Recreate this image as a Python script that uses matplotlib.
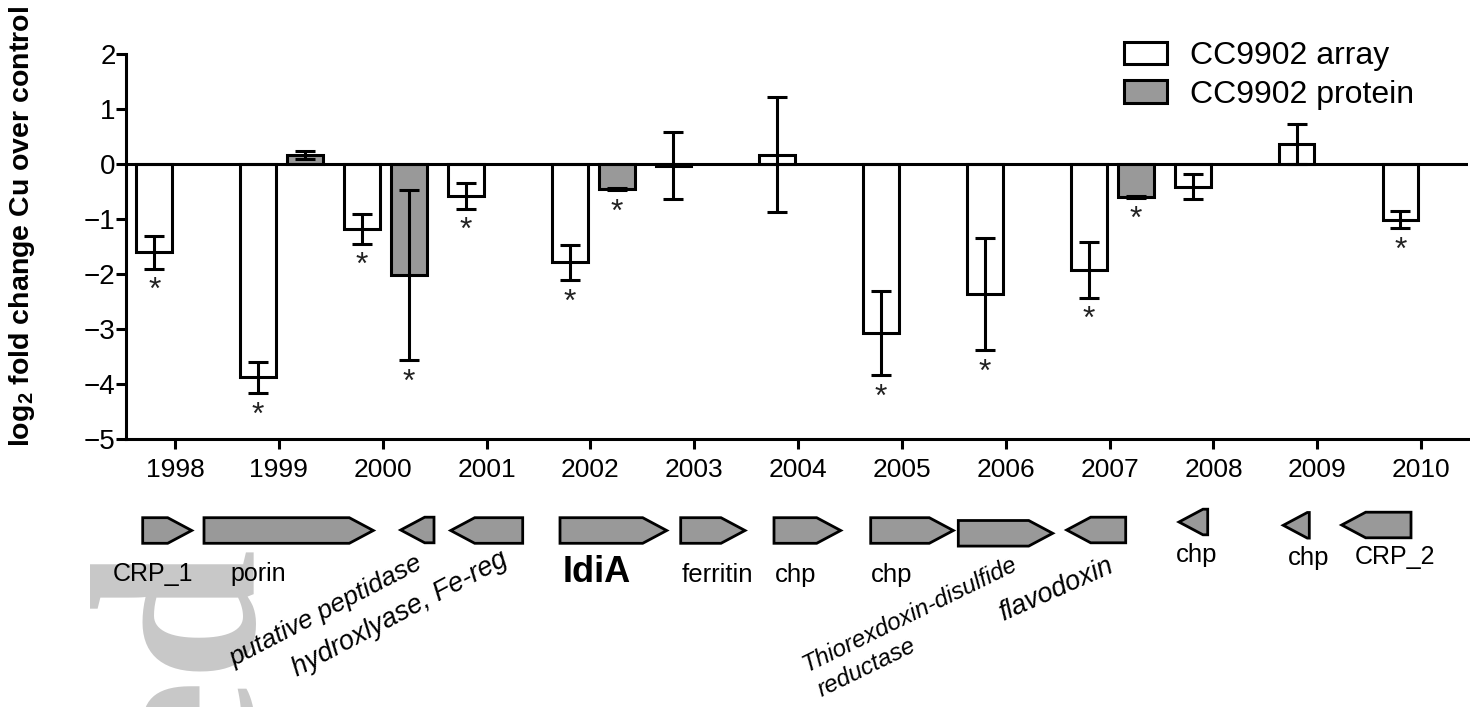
import numpy as np
import matplotlib
matplotlib.use("Agg")
import matplotlib.pyplot as plt
from matplotlib.patches import Patch, Polygon

plt.rcParams['font.family'] = ['Liberation Sans', 'DejaVu Sans']
plt.rcParams['mathtext.fontset'] = 'custom'
plt.rcParams['mathtext.rm'] = 'Liberation Sans'
plt.rcParams['mathtext.bf'] = 'Liberation Sans:bold'

# ---- data ----
years = ['1998', '1999', '2000', '2001', '2002', '2003', '2004',
         '2005', '2006', '2007', '2008', '2009', '2010']
array_vals = [-1.60, -3.88, -1.18, -0.58, -1.79, -0.03, 0.17,
              -3.07, -2.37, -1.92, -0.41, 0.36, -1.01]
array_err = [0.30, 0.28, 0.27, 0.23, 0.32, 0.61, 1.04,
             0.77, 1.02, 0.51, 0.23, 0.36, 0.15]
array_sig = [1, 1, 1, 1, 1, 0, 0, 1, 1, 1, 0, 0, 1]
nan = np.nan
protein_vals = [nan, 0.17, -2.02, nan, -0.45, nan, nan,
                nan, nan, -0.60, nan, nan, nan]
protein_err = [nan, 0.07, 1.55, nan, 0.02, nan, nan,
               nan, nan, 0.01, nan, nan, nan]
protein_sig = [0, 0, 1, 0, 1, 0, 0, 0, 0, 1, 0, 0, 0]
y_ticks = [-5, -4, -3, -2, -1, 0, 1, 2]

# gene map (map position units, strand +1 = rightward)
gene_names = ['CRP_1', 'porin', 'putative peptidase', 'hydroxlyase, Fe-reg', 'IdiA',
              'ferritin', 'chp', 'chp', 'Thiorexdoxin-disulfide reductase',
              'flavodoxin', 'chp', 'chp', 'CRP_2']
gene_start = [142.7, 204.0, 400.7, 450.7, 560.0, 680.7, 774.0, 870.7, 958.3,
              1066.7, 1179.0, 1283.3, 1341.7]
gene_end = [191.7, 373.3, 434.0, 522.7, 666.7, 745.0, 840.7, 953.3, 1052.7,
            1125.7, 1207.7, 1309.3, 1411.0]
gene_strand = [1, 1, -1, -1, 1, 1, 1, 1, 1, -1, -1, -1, -1]

# ---- layout ----
W, H = 1470, 707
L, R, T, B = 126, 1468, 54, 439          # axes box, px
TICK0, STEP = 175, 103.85                # x of first tick, px per category
GRAY = '#999999'
LW = 2.2

fig = plt.figure(figsize=(W / 100, H / 100), dpi=100)

# watermark remnant
fig.text(83 / W, 1 - 540 / H, 'ed', rotation=90, fontsize=170, color='#c8c8c8',
         family='Liberation Serif', fontweight='bold', ha='left', va='top', zorder=-5)

ax = fig.add_axes([L / W, 1 - B / H, (R - L) / W, (B - T) / H])
x = np.arange(len(years))
ax.set_xlim(-(TICK0 - L) / STEP, (R - TICK0) / STEP)
ax.set_ylim(-5, 2)

xa = x - 0.2
xp = x + 0.255
bw = 0.345
av = np.array(array_vals); ae = np.array(array_err)
pv = np.array(protein_vals); pe = np.array(protein_err)
has_p = ~np.isnan(pv)

ax.bar(xa, av, bw, color='white', edgecolor='black', linewidth=LW, zorder=2)
ax.bar(xp[has_p], pv[has_p], bw, color=GRAY, edgecolor='black', linewidth=LW, zorder=2)
ax.errorbar(xa, av, yerr=ae, fmt='none', ecolor='black', elinewidth=LW,
            capsize=7.2, capthick=LW, zorder=3)
ax.errorbar(xp[has_p], pv[has_p], yerr=pe[has_p], fmt='none', ecolor='black',
            elinewidth=LW, capsize=7.2, capthick=LW, zorder=3)
ax.axhline(0, color='black', lw=LW, zorder=4)

for xs, vals, errs, sig in ((xa, av, ae, array_sig), (xp, pv, pe, protein_sig)):
    for xi, v, e, s in zip(xs, vals, errs, sig):
        if s:
            ax.annotate('*', (xi, min(v - e, v)), xytext=(0, -5.5),
                        textcoords='offset points', ha='center', va='top',
                        fontsize=23, color='#222222')

for side in ('top', 'right'):
    ax.spines[side].set_visible(False)
for side in ('left', 'bottom'):
    ax.spines[side].set_linewidth(LW)
ax.set_xticks(x)
ax.set_xticklabels(years, fontsize=19)
ax.set_yticks(y_ticks)
ax.set_yticklabels([str(v).replace('-', '\u2212') for v in y_ticks], fontsize=20)
ax.tick_params(axis='both', direction='out', length=7, width=LW)
ax.tick_params(axis='x', pad=7)
ax.tick_params(axis='y', pad=0.5)
ax.set_facecolor('none')

fig.text(22 / W, 1 - 226 / H, r'log$_\mathbf{2}$ fold change Cu over control',
         rotation=90, fontsize=20.5, fontweight='bold', ha='center', va='center')

ax.legend(handles=[Patch(facecolor='white', edgecolor='black', linewidth=LW, label='CC9902 array'),
                   Patch(facecolor=GRAY, edgecolor='black', linewidth=LW, label='CC9902 protein')],
          loc='upper left', bbox_to_anchor=(1124 / W, 1 - 41 / H), bbox_transform=fig.transFigure,
          frameon=False, fontsize=23, handlelength=1.34, handleheight=0.69,
          handletextpad=0.72, labelspacing=0.27, borderpad=0, borderaxespad=0)

# ---- gene map ----
gy0 = 450
gax = fig.add_axes([0, 0, 1, (H - gy0) / H])
gax.set_xlim(0, W)
gax.set_ylim(H, gy0)
gax.axis('off')

gene_yc = [530.5, 530.5, 530.0, 530.5, 530.5, 530.5, 530.5, 530.5, 533.3,
           530.0, 522.0, 525.3, 525.0]
gh = 12.8      # half height
head = 24.0
for s, e, st, yc in zip(gene_start, gene_end, gene_strand, gene_yc):
    hl = min(head, e - s)
    if st > 0:
        tip, base, back = e, e - hl, s
    else:
        tip, base, back = s, s + hl, e
    if hl >= e - s - 0.5:
        pts = [(back, yc - gh), (tip, yc), (back, yc + gh)]
    else:
        pts = [(back, yc - gh), (base, yc - gh), (tip, yc), (base, yc + gh), (back, yc + gh)]
    gax.add_patch(Polygon(pts, closed=True, facecolor=GRAY, edgecolor='black',
                          linewidth=2.0, joinstyle='miter'))

# gene labels: (text, x, baseline y, size, weight)
flat_labels = [('CRP_1', 153, 581, 18, 'normal'), ('porin', 258, 581, 18, 'normal'),
               ('IdiA', 597, 582, 26, 'bold'), ('ferritin', 717, 582, 18.5, 'normal'),
               ('chp', 796, 582, 18.5, 'normal'), ('chp', 892, 582, 18.5, 'normal'),
               ('chp', 1197, 562, 18.5, 'normal'), ('chp', 1309, 565, 18.5, 'normal'),
               ('CRP_2', 1395, 564, 18, 'normal')]
for txt, lx, ly, fs, fw in flat_labels:
    gax.text(lx, ly, txt, ha='center', va='baseline', fontsize=fs, fontweight=fw)

# tilted labels: (text, x, baseline y, angle, size)
tilted_labels = [('putative peptidase', 234, 667, 27.5, 19),
                 ('hydroxlyase, Fe-reg', 297, 677, 28, 19.5),
                 ('Thiorexdoxin-disulfide', 807, 672, 26, 17.5),
                 ('reductase', 822, 697, 26, 17.5),
                 ('flavodoxin', 1003, 621, 24, 19.5)]
for txt, lx, ly, ang, fs in tilted_labels:
    gax.text(lx, ly, txt, ha='left', va='baseline', rotation=ang, rotation_mode='anchor',
             fontsize=fs, style='italic')

fig.savefig('out.png', dpi=100)
